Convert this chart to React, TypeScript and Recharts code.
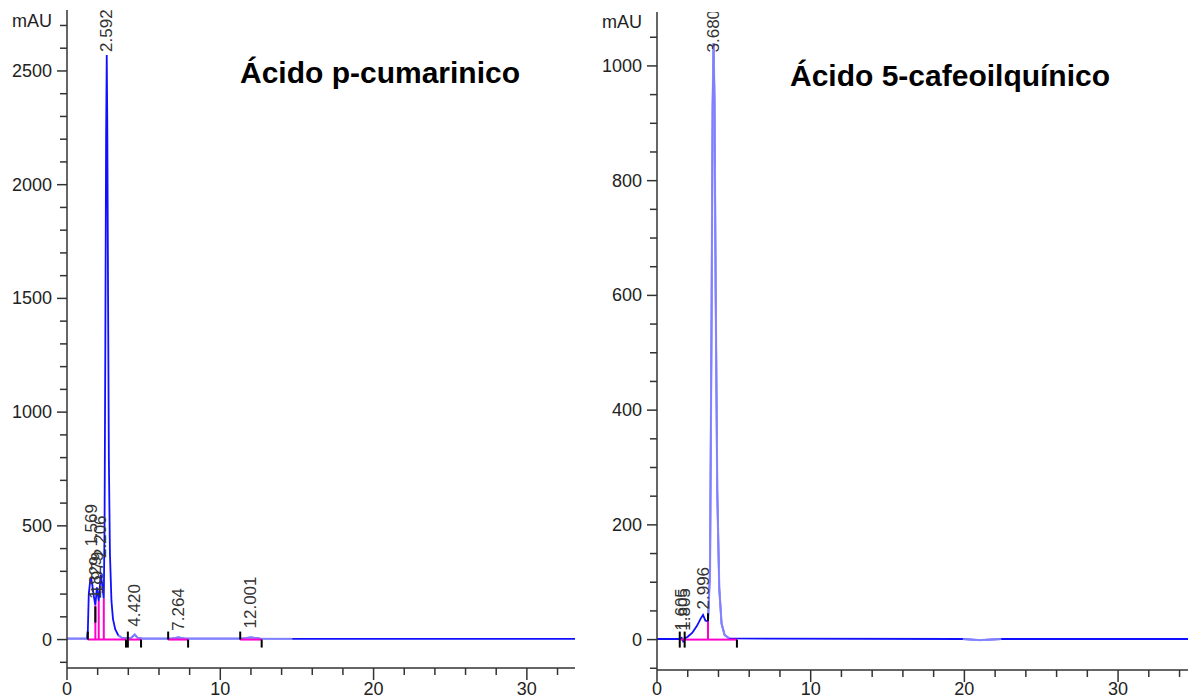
import React from 'react';
import { ComposedChart, Line, Scatter, XAxis, YAxis, ReferenceLine } from 'recharts';

// Left trace: Ácido p-cumarinico (time in min, absorbance in mAU)
const leftTime = [0, 1.0, 1.3, 1.36, 1.42, 1.5, 1.569, 1.65, 1.75, 1.85, 1.95, 2.07, 2.15, 2.206, 2.3, 2.4, 2.45, 2.5, 2.55, 2.592, 2.63, 2.68, 2.73, 2.8, 2.9, 3.0, 3.15, 3.35, 3.6, 4.0, 4.2, 4.42, 4.6, 4.9, 6.8, 7.264, 7.7, 11.4, 12.001, 12.6, 14.7, 33.14];
const leftAbs = [4, 4, 4, 40, 200, 250, 270, 240, 190, 150, 230, 170, 240, 285, 240, 180, 500, 1300, 2200, 2570, 2250, 1500, 800, 380, 170, 90, 45, 18, 7, 5, 8, 22, 8, 4, 4, 9, 4, 4, 10, 4, 3, 3];

// Right trace: Ácido 5-cafeoilquínico
const rightTime = [0, 1.5, 1.605, 1.7, 1.805, 2.0, 2.3, 2.6, 2.85, 2.996, 3.15, 3.32, 3.45, 3.55, 3.62, 3.68, 3.74, 3.82, 3.92, 4.05, 4.2, 4.4, 4.7, 19.9, 21.0, 22.4, 34.55];
const rightAbs = [1, 1, 3, -3, 2, 5, 12, 24, 37, 43, 33, 32, 120, 560, 930, 1040, 940, 600, 260, 90, 28, 8, 2, 1, -1, 1, 1];

// peak labels (retention time, label anchor height)
const leftPeaks = [
  { t: 1.569, v: 400, label: '1.569' },
  { t: 1.829, v: 170, label: '1.829' },
  { t: 1.979, v: 190, label: '1.979' },
  { t: 2.206, v: 350, label: '2.206' },
  { t: 2.592, v: 2575, label: '2.592' },
  { t: 4.42, v: 48, label: '4.420' },
  { t: 7.264, v: 30, label: '7.264' },
  { t: 12.001, v: 40, label: '12.001' },
];
const rightPeaks = [
  { t: 1.605, v: 12, label: '1.605' },
  { t: 1.805, v: 12, label: '1.805' },
  { t: 2.996, v: 49, label: '2.996' },
  { t: 3.68, v: 1020, label: '3.680' },
];

// integration baselines [start, end], drop lines [time, height]
const leftBaselines = [[1.36, 3.85], [3.97, 4.83], [6.6, 7.9], [11.3, 12.7]];
const leftDrops = [[1.85, 150], [2.07, 170], [2.4, 180]];
const rightBaselines = [[1.55, 3.32], [3.32, 5.2]];
const rightDrops = [[3.32, 32]];

// integration event marks
const leftMarks = [
  { t: 1.36, v: 0, dir: 'up' }, { t: 1.85, v: 110, dir: 'both' }, { t: 3.85, v: 0, dir: 'down' },
  { t: 3.97, v: 0, dir: 'both' }, { t: 4.83, v: 0, dir: 'down' }, { t: 6.6, v: 0, dir: 'up' },
  { t: 7.9, v: 0, dir: 'down' }, { t: 11.3, v: 0, dir: 'up' }, { t: 12.7, v: 0, dir: 'down' },
];
const rightMarks = [
  { t: 1.48, v: 0, dir: 'both' }, { t: 1.8, v: 0, dir: 'both' },
  { t: 3.32, v: 32, dir: 'up' }, { t: 5.2, v: 0, dir: 'down' },
];

// lighter overlay ranges of the trace
const leftOverlay = [[0, 1.3], [3.35, 14.7]];
const rightOverlay = [[3.32, 4.7], [19.9, 22.4]];

const leftYMajor = [0, 500, 1000, 1500, 2000, 2500];
const rightYMajor = [0, 200, 400, 600, 800, 1000];
const xMajor = [0, 10, 20, 30];

const range = (a: number, b: number, s: number) => {
  const out: number[] = [];
  for (let v = a; v <= b + 1e-9; v += s) out.push(Math.round(v * 1000) / 1000);
  return out;
};

const toPoints = (time: number[], abs: number[]) => time.map((t, i) => ({ t, v: abs[i] }));
const pick = (pts: { t: number; v: number }[], from: number, to: number) =>
  pts.filter((p) => p.t >= from && p.t <= to);

const AXIS = '#333';
const FONT = '"Liberation Sans", Arial, sans-serif';

const YTick = ({ x, y, payload, major }: any) => {
  const isMajor = major.includes(payload.value);
  return (
    <g>
      <line x1={x - (isMajor ? 10 : 7)} x2={x} y1={y} y2={y} stroke={AXIS} strokeWidth={1.5} />
      {isMajor && (
        <text x={x - 15} y={y} textAnchor="end" dominantBaseline="central" fontSize={18} fill="#222" fontFamily={FONT}>
          {payload.value}
        </text>
      )}
    </g>
  );
};

const XTick = ({ x, y, payload, offset }: any) => {
  const isMajor = xMajor.includes(payload.value);
  return (
    <g>
      <line x1={x} x2={x} y1={y} y2={y + (isMajor ? 12 : 7)} stroke={AXIS} strokeWidth={1.5} />
      {isMajor && (
        <text x={x} y={y + offset} textAnchor="middle" dominantBaseline="central" fontSize={18} fill="#222" fontFamily={FONT}>
          {payload.value}
        </text>
      )}
    </g>
  );
};

const PeakLabel = (props: any) => {
  const { cx, cy, payload } = props;
  const y = cy - 2;
  return (
    <text x={cx} y={y} transform={`rotate(-90 ${cx} ${y})`} textAnchor="start" dominantBaseline="central"
      fontSize={17} fill="#333" fontFamily={FONT}>
      {payload.label}
    </text>
  );
};

const Mark = (props: any) => {
  const { cx, cy, payload } = props;
  const y1 = payload.dir === 'down' ? cy : cy - 8;
  const y2 = payload.dir === 'up' ? cy : cy + 8;
  return <line x1={cx} x2={cx} y1={y1} y2={y2} stroke="#000" strokeWidth={2} />;
};

interface ChromProps {
  width: number;
  time: number[];
  abs: number[];
  xMax: number;
  yDomain: [number, number];
  yTicks: number[];
  yMajor: number[];
  peaks: { t: number; v: number; label: string }[];
  baselines: number[][];
  drops: number[][];
  marks: { t: number; v: number; dir: string }[];
  overlay: number[][];
  top: number;
  right: number;
  xHeight: number;
  labelOffset: number;
}

const Chromatogram = (p: ChromProps) => {
  const pts = toPoints(p.time, p.abs);
  return (
    <ComposedChart width={p.width} height={699} margin={{ top: p.top, right: p.right, left: 0, bottom: 0 }}>
      <XAxis
        type="number"
        dataKey="t"
        domain={[0, p.xMax]}
        allowDataOverflow
        ticks={range(0, p.xMax, 2)}
        interval={0}
        tickSize={0}
        tickMargin={0}
        height={p.xHeight}
        axisLine={{ stroke: AXIS, strokeWidth: 1.5 }}
        tick={<XTick offset={p.labelOffset} />}
      />
      <YAxis
        type="number"
        dataKey="v"
        domain={p.yDomain}
        allowDataOverflow
        ticks={p.yTicks}
        interval={0}
        tickSize={0}
        tickMargin={0}
        width={67}
        axisLine={{ stroke: AXIS, strokeWidth: 1.5 }}
        tick={<YTick major={p.yMajor} />}
      />
      <Line data={pts} dataKey="v" type="linear" stroke="#1010ff" strokeWidth={1.8} dot={false} isAnimationActive={false} />
      {p.overlay.map(([a, b], i) => (
        <Line key={'o' + i} data={pick(pts, a, b)} dataKey="v" type="linear" stroke="#9c9cff" strokeWidth={2.2}
          strokeOpacity={0.8} dot={false} isAnimationActive={false} />
      ))}
      {p.baselines.map(([a, b], i) => (
        <ReferenceLine key={'b' + i} segment={[{ x: a, y: 0 }, { x: b, y: 0 }]} stroke="#ff00cc" strokeWidth={2} />
      ))}
      {p.drops.map(([t, h], i) => (
        <ReferenceLine key={'d' + i} segment={[{ x: t, y: 0 }, { x: t, y: h }]} stroke="#ff00cc" strokeWidth={2} />
      ))}
      <Scatter data={p.marks} dataKey="v" shape={<Mark />} isAnimationActive={false} />
      <Scatter data={p.peaks} dataKey="v" shape={<PeakLabel />} isAnimationActive={false} />
    </ComposedChart>
  );
};

const titleStyle: React.CSSProperties = {
  position: 'absolute',
  fontFamily: FONT,
  fontWeight: 'bold',
  fontSize: 30,
  lineHeight: '30px',
  color: '#000',
  whiteSpace: 'nowrap',
};

const unitStyle: React.CSSProperties = {
  position: 'absolute',
  fontFamily: FONT,
  fontSize: 18,
  lineHeight: '18px',
  color: '#222',
  width: 60,
  textAlign: 'right',
};

export default function App() {
  return (
    <div style={{ position: 'absolute', left: 0, top: 0, width: 1188, height: 699, background: '#fff', overflow: 'hidden' }}>
      <div style={{ position: 'absolute', left: 0, top: 0 }}>
        <Chromatogram
          width={590}
          time={leftTime}
          abs={leftAbs}
          xMax={33.14}
          yDomain={[-125, 2768]}
          yTicks={range(-100, 2700, 100)}
          yMajor={leftYMajor}
          peaks={leftPeaks}
          baselines={leftBaselines}
          drops={leftDrops}
          marks={leftMarks}
          overlay={leftOverlay}
          top={10}
          right={15}
          xHeight={31}
          labelOffset={21}
        />
      </div>
      <div style={{ position: 'absolute', left: 590, top: 0 }}>
        <Chromatogram
          width={598}
          time={rightTime}
          abs={rightAbs}
          xMax={34.55}
          yDomain={[-53, 1094]}
          yTicks={range(-50, 1050, 50)}
          yMajor={rightYMajor}
          peaks={rightPeaks}
          baselines={rightBaselines}
          drops={rightDrops}
          marks={rightMarks}
          overlay={rightOverlay}
          top={12}
          right={0}
          xHeight={29}
          labelOffset={19}
        />
      </div>
      <div style={{ ...unitStyle, left: -8, top: 12 }}>mAU</div>
      <div style={{ ...unitStyle, left: 582, top: 13 }}>mAU</div>
      <div style={{ ...titleStyle, left: 240, top: 58 }}>Ácido p-cumarinico</div>
      <div style={{ ...titleStyle, left: 790, top: 61 }}>Ácido 5-cafeoilquínico</div>
    </div>
  );
}
